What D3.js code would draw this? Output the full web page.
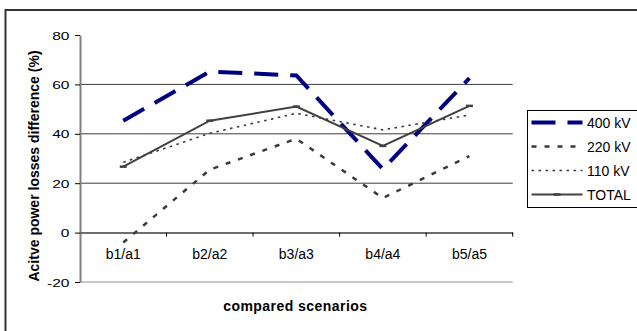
<!DOCTYPE html>
<html>
<head>
<meta charset="utf-8">
<script src="https://cdn.jsdelivr.net/npm/d3@7"></script>
<style>
  html, body { margin: 0; padding: 0; background: #fff; }
  svg { display: block; font-family: "Liberation Sans", Arial, sans-serif; }
</style>
</head>
<body>
<svg id="chart" width="637" height="331"></svg>
<script>
// ── data ─────────────────────────────────────────────────────────
const categories = ["b1/a1", "b2/a2", "b3/a3", "b4/a4", "b5/a5"];
const v400  = [45.3, 65.2, 63.6, 25.7, 62.5];
const v220  = [-4, 25.5, 38, 14, 31];
const v110  = [28.5, 40.2, 48.3, 41.6, 47.6];
const vTotal = [26.7, 45.3, 51, 35.1, 51.3];
const yTicks = [-20, 0, 20, 40, 60, 80];

const series = [
  { name: "400 kV", values: v400,   color: "#000080", width: 4,   dash: "24,12" },
  { name: "220 kV", values: v220,   color: "#3a3a3a", width: 2.5, dash: "5,8" },
  { name: "110 kV", values: v110,   color: "#3a3a3a", width: 1.6, dash: "2.5,4.5" },
  { name: "TOTAL",  values: vTotal, color: "#404040", width: 2,   dash: null, marker: true }
];

const svg = d3.select("#chart");

// outer chart frame (clipped at right/bottom like the source)
svg.append("rect")
  .attr("x", 5.5).attr("y", 10).attr("width", 660).attr("height", 340)
  .attr("fill", "none").attr("stroke", "#333").attr("stroke-width", 2);

const plot = { left: 80, right: 512.7, top: 35, bottom: 282 };

const x = d3.scaleBand().domain(categories).range([plot.left, plot.right]);
const y = d3.scaleLinear().domain([-20, 80]).range([plot.bottom, plot.top]);
const cx = d => x(d) + x.bandwidth() / 2;

// gridlines
svg.append("g").selectAll("line")
  .data(yTicks.filter(t => t > 0 && t < 80))
  .join("line")
  .attr("x1", plot.left).attr("x2", plot.right)
  .attr("y1", d => y(d)).attr("y2", d => y(d))
  .attr("stroke", "#3c3c3c").attr("stroke-width", 1);

// plot-area bottom border
svg.append("line")
  .attr("x1", plot.left).attr("x2", plot.right)
  .attr("y1", y(-20)).attr("y2", y(-20))
  .attr("stroke", "#c8c8c8").attr("stroke-width", 2);

// y axis (labels are horizontally stretched in the source picture)
const yAxis = d3.axisLeft(y).tickValues(yTicks).tickSize(5).tickSizeOuter(0)
  .tickFormat(d => d < 0 ? "-" + Math.abs(d) : String(d));
const gy = svg.append("g").attr("transform", `translate(${plot.left},0)`).call(yAxis);
gy.select(".domain").attr("stroke", "#808080").attr("stroke-width", 2);
gy.selectAll(".tick line").attr("stroke", "#000");
gy.selectAll("text")
  .attr("x", -7.8).attr("dy", "0.36em")
  .attr("transform", "scale(1.35,1)")
  .attr("font-size", "11.5px").attr("fill", "#000")
  .attr("font-family", "Liberation Sans, Arial, sans-serif");

// x axis at zero
const xAxis = d3.axisBottom(x).tickSize(0);
const gx = svg.append("g").attr("transform", `translate(0,${y(0)})`).call(xAxis);
gx.select(".domain").attr("stroke", "#3c3c3c").attr("stroke-width", 1.5);
gx.selectAll("text")
  .attr("y", 26).attr("dy", 0)
  .attr("font-size", "14px").attr("fill", "#000")
  .attr("font-family", "Liberation Sans, Arial, sans-serif");
// category boundary ticks
gx.append("g").selectAll("line")
  .data(d3.range(1, categories.length + 1))
  .join("line")
  .attr("x1", i => plot.left + i * x.bandwidth())
  .attr("x2", i => plot.left + i * x.bandwidth())
  .attr("y1", 0).attr("y2", 4)
  .attr("stroke", "#000");

// axis titles
svg.append("text")
  .attr("x", (plot.left + plot.right) / 2 - 1).attr("y", 311)
  .attr("text-anchor", "middle").attr("font-size", "14px").attr("font-weight", "bold")
  .attr("letter-spacing", "0.45px")
  .text("compared scenarios");

svg.append("text")
  .attr("transform", "translate(39,166) rotate(-90)")
  .attr("text-anchor", "middle").attr("font-size", "14px").attr("font-weight", "bold")
  .text("Acitve power losses difference (%)");

// lines
const line = d3.line().x((d, i) => cx(categories[i])).y(d => y(d));
series.forEach(s => {
  svg.append("path")
    .datum(s.values)
    .attr("d", line)
    .attr("fill", "none")
    .attr("stroke", s.color)
    .attr("stroke-width", s.width)
    .attr("stroke-dasharray", s.dash)
    .attr("stroke-linejoin", "miter");
  if (s.marker) {
    svg.append("g").selectAll("line")
      .data(s.values)
      .join("line")
      .attr("x1", (d, i) => cx(categories[i]) - 3.5)
      .attr("x2", (d, i) => cx(categories[i]) + 3.5)
      .attr("y1", d => y(d)).attr("y2", d => y(d))
      .attr("stroke", s.color).attr("stroke-width", 2.5);
  }
});

// legend
const leg = svg.append("g").attr("transform", "translate(527.5,110.5)");
leg.append("rect")
  .attr("width", 130).attr("height", 97)
  .attr("fill", "#fff").attr("stroke", "#000").attr("stroke-width", 1);
series.forEach((s, i) => {
  const ly = 12 + i * 24;
  leg.append("line")
    .attr("x1", 4).attr("x2", 55).attr("y1", ly).attr("y2", ly)
    .attr("stroke", s.color).attr("stroke-width", s.width)
    .attr("stroke-dasharray", s.dash);
  if (s.marker) {
    leg.append("line")
      .attr("x1", 26).attr("x2", 33).attr("y1", ly).attr("y2", ly)
      .attr("stroke", s.color).attr("stroke-width", 2.5);
  }
  leg.append("text")
    .attr("x", 59.5).attr("y", ly + 5)
    .attr("font-size", "14px").attr("fill", "#000")
    .text(s.name);
});
</script>
</body>
</html>
